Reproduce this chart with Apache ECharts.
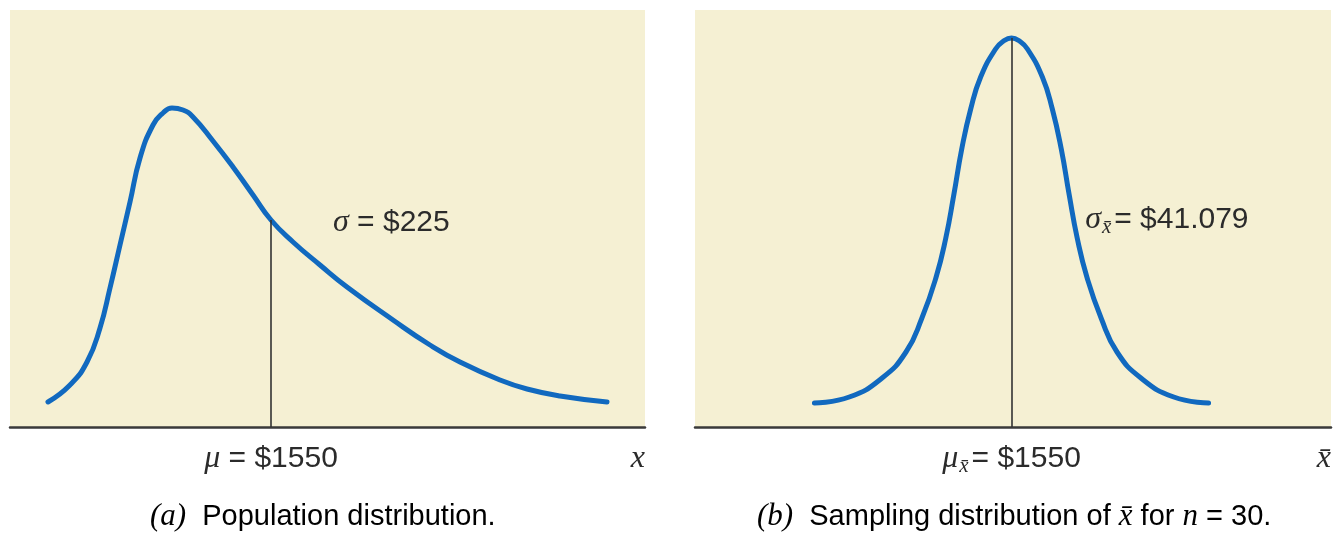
<!DOCTYPE html>
<html><head><meta charset="utf-8">
<script src="https://cdn.jsdelivr.net/npm/echarts@6/dist/echarts.min.js"></script>
<style>html,body{margin:0;padding:0;background:#fff}#c{width:1334px;height:543px}</style>
</head><body><div id="c"></div>
<script>
// (a) Population distribution: x in dollars, relative height of the density curve
const popX = [1104,1148,1182,1208,1228,1248,1268,1288,1314,1334,1352,1374,1394,1434,1474,1514,1550,1594,1648,1702,1794,1868,1928,2008,2062,2128,2222];
const popY = [25,42,65,99,139,182,225,269,302,314,319,317,310,286,260,232,207,185,162,140,107,82,65,47,38,31,25];
// (b) Sampling distribution of x-bar for n = 30
const sampX = [1431.2,1452.2,1472,1486.4,1496,1504.4,1510.4,1515.2,1520,1525.4,1531.4,1540.4,1545.2,1550,1554.8,1559.6,1568.6,1574.6,1580,1584.8,1589.6,1595.6,1604,1613.6,1628,1647.8,1668.8];
const sampY = [24,30,49,75,109,149,189,232,278,318,350,378,386,389,386,378,350,318,278,232,189,149,109,75,49,30,24];
const MEAN = 1550;
const popMeanHeight = 207;
const sampMeanHeight = 389;
const popAxis = [1028, 2298];
const sampAxis = [1359.2, 1742.6];
const popSigmaAt = [1674, 204];
const sampSigmaAt = [1594.4, 207];

const FONT = '"Liberation Sans",Arial,sans-serif';
const SERIF = '"Liberation Serif","DejaVu Serif",serif';
const FS = 30;
const TXT = '#2b2b2b';
const BLUE = '#1169bf';
const BG = '#f5f0d3';

function rich(fs) {
  fs = fs || FS;
  return {
    n: {fontFamily: FONT, fontSize: fs, color: TXT, lineHeight: 36},
    i: {fontFamily: SERIF, fontStyle: 'italic', fontSize: fs + 2, color: TXT, lineHeight: 36},
    sub: {fontFamily: SERIF, fontStyle: 'italic', fontSize: 21, color: TXT, lineHeight: 36, verticalAlign: 'bottom', padding: [0, 3, 0, 1]}
  };
}

const chart = echarts.init(document.getElementById('c'));
const grids = [
  {left: 10, top: 10, width: 635, height: 417, show: true, backgroundColor: BG, borderWidth: 0},
  {left: 695, top: 10, width: 639, height: 417, show: true, backgroundColor: BG, borderWidth: 0}
];
function xAxis(idx, range, fmt) {
  return {
    type: 'value', gridIndex: idx, min: range[0], max: range[1],
    axisLine: {show: true, lineStyle: {color: '#3a3a3a', width: 2.5}},
    axisTick: {show: false}, splitLine: {show: false},
    axisLabel: {show: true, customValues: [MEAN, range[1]], margin: 14, alignMaxLabel: 'right',
      formatter: fmt, rich: rich(), fontFamily: FONT, fontSize: FS, color: TXT}
  };
}
const option = {
  animation: false,
  grid: grids,
  xAxis: [
    xAxis(0, popAxis, v => v === MEAN ? '{i|μ}{n| = $' + MEAN + '}' : '{i|x}'),
    xAxis(1, sampAxis, v => v === MEAN ? '{i|μ}{sub|x̄}{n|= $' + MEAN + '}' : '{i|x̄}')
  ],
  yAxis: [
    {type: 'value', gridIndex: 0, min: 0, max: 417, show: false},
    {type: 'value', gridIndex: 1, min: 0, max: 417, show: false}
  ],
  graphic: [
    {type: 'text', left: 150, top: 501, style: {text: '{i|(a)}{n|  Population distribution.}', rich: rich(29)}},
    {type: 'text', left: 757, top: 501, style: {text: '{i|(b)}{n|  Sampling distribution of }{i|x̄}{n| for }{i|n}{n| = 30.}', rich: rich(29)}}
  ],
  series: [
    {
      type: 'line', xAxisIndex: 0, yAxisIndex: 0, smooth: 0.5, symbol: 'none',
      lineStyle: {color: BLUE, width: 5, cap: 'round'},
      data: popX.map((x, i) => [x, popY[i]]),
      markLine: {silent: true, symbol: 'none', label: {show: false},
        lineStyle: {color: '#333', width: 1.6, type: 'solid'},
        data: [[{coord: [MEAN, 0]}, {coord: [MEAN, popMeanHeight]}]]},
      markPoint: {symbol: 'circle', symbolSize: 0, silent: true,
        label: {show: true, position: 'right', distance: 0, formatter: '{i|σ}{n| = $225}', rich: rich()},
        data: [{coord: popSigmaAt}]}
    },
    {
      type: 'line', xAxisIndex: 1, yAxisIndex: 1, smooth: 0.5, symbol: 'none',
      lineStyle: {color: BLUE, width: 5, cap: 'round'},
      data: sampX.map((x, i) => [x, sampY[i]]),
      markLine: {silent: true, symbol: 'none', label: {show: false},
        lineStyle: {color: '#333', width: 1.6, type: 'solid'},
        data: [[{coord: [MEAN, 0]}, {coord: [MEAN, sampMeanHeight]}]]},
      markPoint: {symbol: 'circle', symbolSize: 0, silent: true,
        label: {show: true, position: 'right', distance: 0, formatter: '{i|σ}{sub|x̄}{n|= $41.079}', rich: rich()},
        data: [{coord: sampSigmaAt}]}
    }
  ]
};
chart.setOption(option);
</script></body></html>
